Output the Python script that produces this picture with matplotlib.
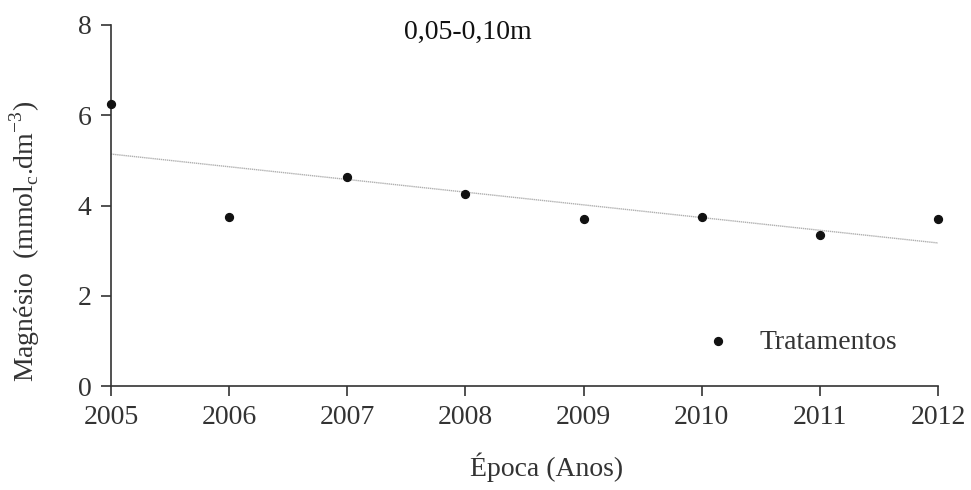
import matplotlib
matplotlib.use("Agg")
import matplotlib.pyplot as plt

years = [2005, 2006, 2007, 2008, 2009, 2010, 2011, 2012]
magnesio = [6.25, 3.75, 4.63, 4.26, 3.70, 3.75, 3.35, 3.70]
trend_years = [2005, 2012]
trend_values = [5.14, 3.17]
yticks = [0, 2, 4, 6, 8]

plt.rcParams['font.family'] = ['Liberation Serif', 'DejaVu Serif']
txt = '#333333'
FS = 20

fig = plt.figure(figsize=(9.71, 4.90), dpi=100)
ax = fig.add_axes([0.1143, 0.2122, 0.8517, 0.7368])

ax.plot(trend_years, trend_values, color='#b0b0b0', lw=1.0, ls=(0, (1, 0.5)), zorder=2)
ax.scatter(years, magnesio, s=32, color='#111111', zorder=3, clip_on=False, label='Tratamentos')

ax.set_xlim(2005, 2012)
ax.set_ylim(0, 8)
ax.set_xticks(years)
ax.set_yticks(yticks)
for s in ['top', 'right']:
    ax.spines[s].set_visible(False)
for s in ['left', 'bottom']:
    ax.spines[s].set_color('#333333')
    ax.spines[s].set_linewidth(1.2)
ax.tick_params(axis='both', labelsize=FS, colors=txt, length=7, width=1.2, labelcolor=txt)
ax.tick_params(axis='x', pad=7)
ax.tick_params(axis='y', pad=7)

fig.text(0.482, 1 - 20 / 490, '0,05-0,10m', ha='center', va='top', fontsize=FS, color='#111111')
ax.set_xlabel('Época (Anos)', fontsize=FS, color=txt)
ax.xaxis.set_label_coords(0.527, (386 - 467) / 361)
ax.xaxis.label.set_va('center')
ax.set_ylabel('Magnésio  (mmol$_\\mathregular{c}$.dm$^\\mathregular{-3}$)', fontsize=FS, color=txt)
ax.yaxis.set_label_coords(-0.104, 0.40)
ax.yaxis.label.set_va('center')

leg = ax.legend(loc='center left', frameon=False, fontsize=FS, bbox_to_anchor=(0.670, 0.122),
                handletextpad=0.5, scatterpoints=1)
for t in leg.get_texts():
    t.set_color(txt)

fig.savefig('out.png', dpi=100, facecolor='white')
